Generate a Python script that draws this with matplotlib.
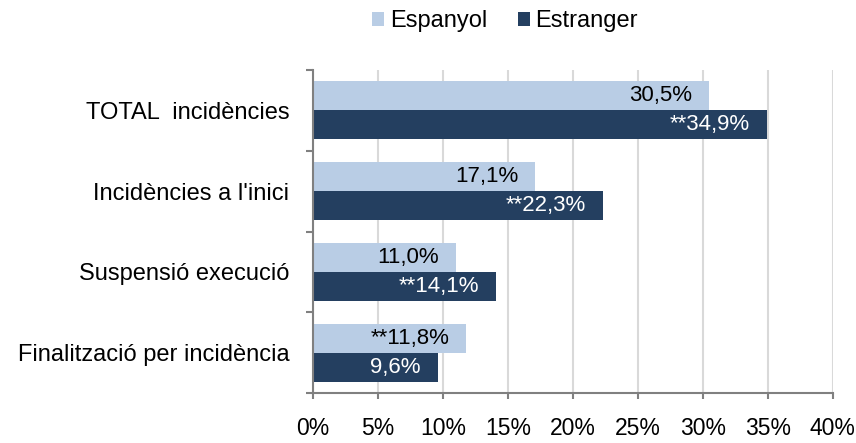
import matplotlib.pyplot as plt
import numpy as np

plt.rcParams['font.family'] = ['Liberation Sans', 'DejaVu Sans']

categories = ["TOTAL  incidències", "Incidències a l'inici", "Suspensió execució", "Finalització per incidència"]
espanyol = [30.5, 17.1, 11.0, 11.8]
estranger = [34.9, 22.3, 14.1, 9.6]
lab_esp = ["30,5%", "17,1%", "11,0%", "**11,8%"]
lab_est = ["**34,9%", "**22,3%", "**14,1%", "9,6%"]

light = "#B9CDE5"
dark = "#243F60"

fig = plt.figure(figsize=(8.56, 4.43), dpi=100)
ax = fig.add_axes([0.3657, 0.1129, 0.6073, 0.729])

y = np.arange(len(categories))
h = 0.36
b1 = ax.barh(y - h / 2, espanyol, height=h, color=light, label="Espanyol", zorder=2)
b2 = ax.barh(y + h / 2, estranger, height=h, color=dark, label="Estranger", zorder=2)

for bar, txt in zip(b1, lab_esp):
    ax.text(bar.get_width() - 1.3, bar.get_y() + bar.get_height() / 2, txt,
            ha='right', va='center', fontsize=16, color='black', zorder=3)
for bar, txt in zip(b2, lab_est):
    ax.text(bar.get_width() - 1.3, bar.get_y() + bar.get_height() / 2, txt,
            ha='right', va='center', fontsize=16, color='white', zorder=3)

ax.set_xlim(0, 40)
ax.set_ylim(3.5, -0.5)
ax.set_xticks(np.arange(0, 41, 5))
ax.set_xticklabels([f"{v}%" for v in range(0, 41, 5)], fontsize=16.5)
ax.set_yticks(y)
ax.set_yticklabels(categories, fontsize=17)
ax.set_yticks(np.arange(-0.5, 4, 1), minor=True)
ax.tick_params(axis='y', which='major', length=0, pad=17)
ax.tick_params(axis='y', which='minor', length=5, color='#808080', width=1.5)
ax.tick_params(axis='x', length=4.5, color='#808080', width=1.5, pad=13)

ax.grid(axis='x', color='#D9D9D9', linewidth=1.5, zorder=0)
for s in ['top', 'right']:
    ax.spines[s].set_visible(False)
for s in ['left', 'bottom']:
    ax.spines[s].set_color('#808080')
    ax.spines[s].set_linewidth(1.5)

fig.legend(handles=[b1, b2], loc='upper center', bbox_to_anchor=(0.59, 1.025), ncol=2,
           frameon=False, fontsize=17, handlelength=0.5, handleheight=0.5,
           handletextpad=0.25, columnspacing=1.3)

fig.savefig("out.png", dpi=100)
